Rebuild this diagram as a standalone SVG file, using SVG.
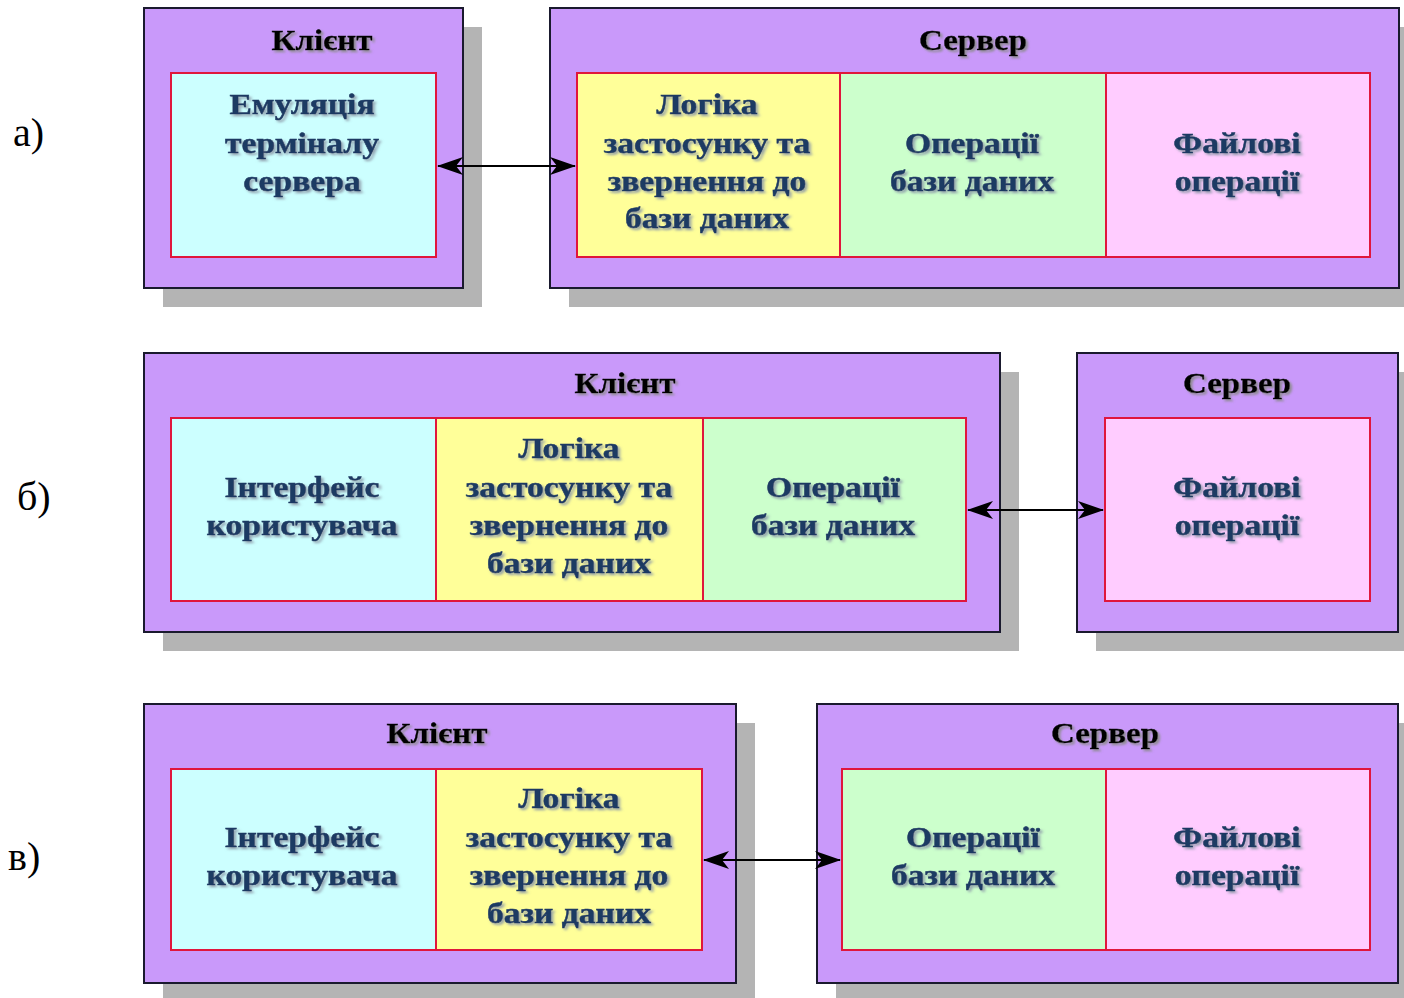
<svg xmlns="http://www.w3.org/2000/svg" width="1404" height="998" viewBox="0 0 1404 998">
<style>
.bg{fill:#ffffff}
.sh{fill:#b4b4b4}
.outer{fill:#c999fa;stroke:#1a1a2e;stroke-width:2}
.cell{stroke:#e0163c;stroke-width:2}
.cy{fill:#ccffff}
.ye{fill:#ffff99}
.gr{fill:#ccffcc}
.pk{fill:#ffccff}
.title{font-family:"Liberation Serif","Times New Roman",serif;font-weight:bold;font-size:30px;fill:#000000;stroke:#000000;stroke-width:0.4;text-anchor:middle;filter:url(#tsh)}
.body{font-family:"Liberation Serif","Times New Roman",serif;font-weight:bold;font-size:30px;fill:#1c3a63;stroke:#1c3a63;stroke-width:0.5;text-anchor:middle;filter:url(#bsh)}
.lbl{font-family:"Liberation Serif","Times New Roman",serif;font-size:40px;fill:#000000}
.conn{stroke:#000000;stroke-width:2;fill:none;marker-start:url(#ah);marker-end:url(#ah)}
</style>
<defs>
<filter id="tsh" x="-10%" y="-20%" width="130%" height="160%">
<feDropShadow dx="2" dy="2" stdDeviation="1.2" flood-color="#8a8a8a" flood-opacity="0.9"/>
</filter>
<filter id="bsh" x="-10%" y="-20%" width="130%" height="160%">
<feDropShadow dx="2" dy="2" stdDeviation="1.2" flood-color="#8c99a8" flood-opacity="0.9"/>
</filter>
<marker id="ah" viewBox="0 0 26 20" refX="25" refY="10" markerWidth="26" markerHeight="20" markerUnits="userSpaceOnUse" orient="auto-start-reverse">
<path d="M0,1 L26,10 L0,19 L7,10 Z" fill="#000000"/>
</marker>
</defs>
<rect class="bg" x="0" y="0" width="1404" height="998"/>

<!-- labels -->
<text class="lbl" x="13" y="146">а)</text>
<text class="lbl" x="17" y="510">б)</text>
<text class="lbl" x="8" y="870">в)</text>

<!-- Row a -->
<g id="a-client">
<rect class="sh" x="163" y="27" width="319" height="280"/>
<rect class="outer" x="144" y="8" width="319" height="280"/>
<g transform="translate(322 0) scale(1.1 1)"><text class="title" x="0" y="50">Клієнт</text></g>
<rect class="cell cy" x="171" y="73" width="265" height="184"/>
<g transform="translate(302 0) scale(1.12 1)">
<text class="body" x="0" y="114">Емуляція</text>
<text class="body" x="0" y="153">терміналу</text>
<text class="body" x="0" y="191">сервера</text>
</g>
</g>
<g id="a-server">
<rect class="sh" x="569" y="27" width="849" height="280"/>
<rect class="outer" x="550" y="8" width="849" height="280"/>
<g transform="translate(973 0) scale(1.1 1)"><text class="title" x="0" y="50">Сервер</text></g>
<rect class="cell ye" x="577" y="73" width="263" height="184"/>
<g transform="translate(707 0) scale(1.12 1)">
<text class="body" x="0" y="114">Логіка</text>
<text class="body" x="0" y="153">застосунку та</text>
<text class="body" x="0" y="191">звернення до</text>
<text class="body" x="0" y="228">бази даних</text>
</g>
<rect class="cell gr" x="840" y="73" width="266" height="184"/>
<g transform="translate(972 0) scale(1.12 1)">
<text class="body" x="0" y="153">Операції</text>
<text class="body" x="0" y="191">бази даних</text>
</g>
<rect class="cell pk" x="1106" y="73" width="264" height="184"/>
<g transform="translate(1237 0) scale(1.12 1)">
<text class="body" x="0" y="153">Файлові</text>
<text class="body" x="0" y="191">операції</text>
</g>
</g>

<!-- Row b -->
<g id="b-client">
<rect class="sh" x="163" y="372" width="856" height="279"/>
<rect class="outer" x="144" y="353" width="856" height="279"/>
<g transform="translate(625 0) scale(1.1 1)"><text class="title" x="0" y="393">Клієнт</text></g>
<rect class="cell cy" x="171" y="418" width="265" height="183"/>
<g transform="translate(302 0) scale(1.12 1)">
<text class="body" x="0" y="497">Інтерфейс</text>
<text class="body" x="0" y="535">користувача</text>
</g>
<rect class="cell ye" x="436" y="418" width="267" height="183"/>
<g transform="translate(569 0) scale(1.12 1)">
<text class="body" x="0" y="458">Логіка</text>
<text class="body" x="0" y="497">застосунку та</text>
<text class="body" x="0" y="535">звернення до</text>
<text class="body" x="0" y="573">бази даних</text>
</g>
<rect class="cell gr" x="703" y="418" width="263" height="183"/>
<g transform="translate(833 0) scale(1.12 1)">
<text class="body" x="0" y="497">Операції</text>
<text class="body" x="0" y="535">бази даних</text>
</g>
</g>
<g id="b-server">
<rect class="sh" x="1096" y="372" width="321" height="279"/>
<rect class="outer" x="1077" y="353" width="321" height="279"/>
<g transform="translate(1237 0) scale(1.1 1)"><text class="title" x="0" y="393">Сервер</text></g>
<rect class="cell pk" x="1105" y="418" width="265" height="183"/>
<g transform="translate(1237 0) scale(1.12 1)">
<text class="body" x="0" y="497">Файлові</text>
<text class="body" x="0" y="535">операції</text>
</g>
</g>

<!-- Row c -->
<g id="c-client">
<rect class="sh" x="163" y="723" width="592" height="279"/>
<rect class="outer" x="144" y="704" width="592" height="279"/>
<g transform="translate(437 0) scale(1.1 1)"><text class="title" x="0" y="743">Клієнт</text></g>
<rect class="cell cy" x="171" y="769" width="265" height="181"/>
<g transform="translate(302 0) scale(1.12 1)">
<text class="body" x="0" y="847">Інтерфейс</text>
<text class="body" x="0" y="885">користувача</text>
</g>
<rect class="cell ye" x="436" y="769" width="266" height="181"/>
<g transform="translate(569 0) scale(1.12 1)">
<text class="body" x="0" y="808">Логіка</text>
<text class="body" x="0" y="847">застосунку та</text>
<text class="body" x="0" y="885">звернення до</text>
<text class="body" x="0" y="923">бази даних</text>
</g>
</g>
<g id="c-server">
<rect class="sh" x="836" y="723" width="581" height="279"/>
<rect class="outer" x="817" y="704" width="581" height="279"/>
<g transform="translate(1105 0) scale(1.1 1)"><text class="title" x="0" y="743">Сервер</text></g>
<rect class="cell gr" x="842" y="769" width="264" height="181"/>
<g transform="translate(973 0) scale(1.12 1)">
<text class="body" x="0" y="847">Операції</text>
<text class="body" x="0" y="885">бази даних</text>
</g>
<rect class="cell pk" x="1106" y="769" width="264" height="181"/>
<g transform="translate(1237 0) scale(1.12 1)">
<text class="body" x="0" y="847">Файлові</text>
<text class="body" x="0" y="885">операції</text>
</g>
</g>

<g id="connectors">
<line class="conn" x1="438" y1="166" x2="575" y2="166"/>
<line class="conn" x1="968" y1="510" x2="1103" y2="510"/>
<line class="conn" x1="704" y1="860" x2="840" y2="860"/>
</g>
</svg>
